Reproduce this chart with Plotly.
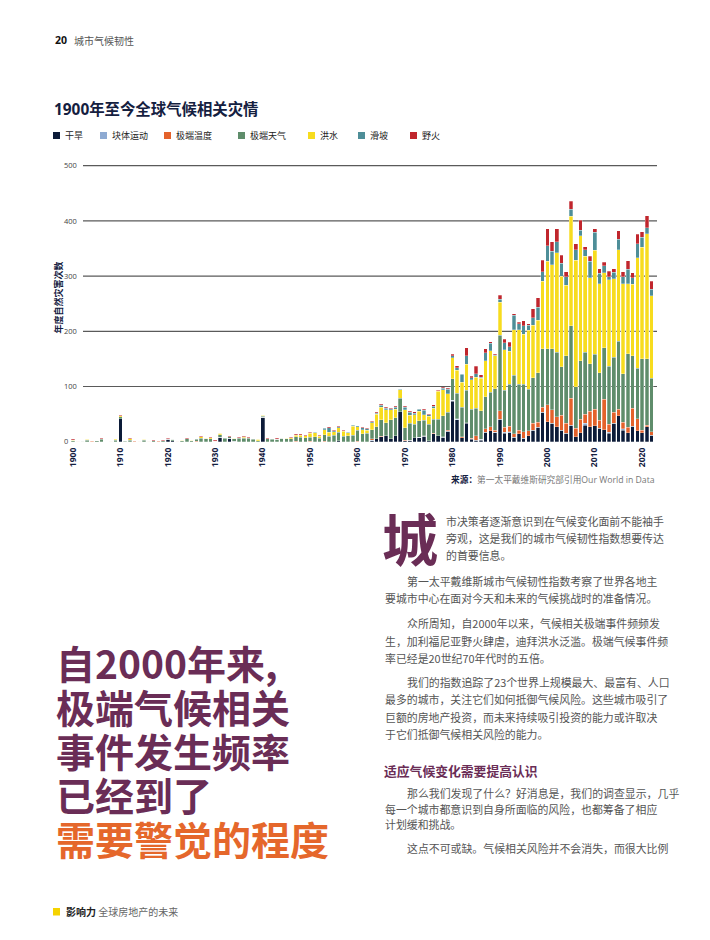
import plotly.graph_objects as go

# ---------------- data ----------------
years = list(range(1900, 2023))

drought = [
    0, 0, 0, 0, 0, 0, 0, 0, 0, 0,
    42, 0, 0, 0, 0, 0, 0, 0, 0, 0,
    4, 2, 0, 0, 0, 0, 0, 0, 0, 0,
    0, 8, 0, 6, 1, 0, 0, 0, 0, 0,
    44, 0, 0, 0, 0, 0, 0, 0, 0, 0,
    0, 0, 0, 0, 0, 0, 2, 0, 0, 0,
    0, 0, 0, 2, 5, 9, 11, 5, 11, 54,
    2, 3, 7, 7, 10, 2, 14, 11, 8, 19,
    73, 40, 7, 33, 4, 3, 3, 17, 20, 16,
    41, 15, 16, 8, 14, 6, 11, 21, 26, 53,
    36, 33, 27, 21, 15, 30, 9, 16, 30, 27,
    29, 24, 22, 15, 33, 47, 21, 16, 28, 20,
    16, 27, 12,
]
mass_movement = [
    0, 0, 0, 0, 0, 0, 0, 0, 0, 0,
    0, 0, 0, 0, 0, 0, 0, 0, 0, 0,
    0, 0, 0, 0, 0, 0, 0, 0, 0, 0,
    0, 0, 0, 0, 0, 0, 0, 0, 0, 0,
    0, 0, 0, 0, 0, 0, 0, 0, 0, 0,
    0, 0, 0, 0, 0, 0, 0, 0, 0, 0,
    0, 0, 0, 1, 0, 0, 0, 0, 0, 0,
    0, 0, 0, 1, 0, 0, 0, 0, 0, 0,
    2, 1, 0, 1, 1, 0, 1, 0, 0, 1,
    0, 2, 2, 0, 0, 0, 0, 0, 0, 0,
    0, 0, 0, 0, 0, 0, 0, 0, 3, 0,
    0, 0, 0, 2, 0, 0, 2, 0, 0, 0,
    0, 0, 0,
]
extreme_temp = [
    0, 1, 0, 0, 1, 0, 0, 0, 1, 0,
    0, 0, 0, 1, 1, 0, 1, 0, 1, 0,
    0, 0, 1, 0, 0, 0, 1, 0, 0, 0,
    1, 0, 0, 0, 0, 0, 0, 0, 0, 0,
    0, 0, 0, 0, 0, 0, 0, 1, 0, 0,
    1, 0, 0, 1, 0, 0, 0, 0, 0, 0,
    1, 0, 0, 2, 0, 1, 0, 0, 0, 0,
    1, 0, 0, 0, 1, 0, 1, 0, 1, 2,
    0, 1, 2, 0, 1, 8, 0, 6, 7, 4,
    15, 9, 10, 6, 7, 12, 9, 12, 9, 9,
    31, 25, 18, 27, 18, 49, 15, 25, 17, 28,
    30, 15, 55, 15, 20, 12, 12, 10, 33, 22,
    5, 3, 6,
]
extreme_weather = [
    2, 0, 1, 3, 1, 2, 4, 0, 0, 3,
    3, 1, 3, 1, 0, 3, 0, 2, 1, 2,
    1, 2, 0, 2, 5, 2, 3, 6, 5, 5,
    0, 5, 6, 3, 4, 6, 6, 6, 4, 2,
    2, 5, 4, 4, 6, 5, 5, 8, 8, 7,
    7, 9, 6, 12, 10, 12, 15, 10, 11, 12,
    20, 14, 15, 17, 22, 30, 23, 35, 32, 25,
    22, 30, 25, 30, 28, 30, 26, 30, 38, 32,
    39, 46, 53, 59, 53, 50, 52, 58, 63, 75,
    137, 67, 76, 106, 83, 86, 75, 83, 90, 106,
    101, 110, 117, 88, 123, 131, 76, 106, 112, 86,
    99, 86, 93, 105, 100, 123, 88, 133, 95, 91,
    129, 120, 97,
]
flood = [
    1, 0, 0, 1, 0, 0, 1, 0, 0, 1,
    2, 1, 2, 0, 0, 1, 0, 0, 0, 0,
    0, 0, 0, 1, 0, 1, 1, 3, 1, 2,
    0, 2, 1, 0, 1, 1, 2, 1, 1, 2,
    2, 0, 1, 0, 0, 1, 2, 3, 4, 4,
    7, 7, 4, 9, 7, 6, 8, 9, 5, 16,
    6, 8, 6, 12, 23, 22, 24, 18, 16, 15,
    33, 15, 17, 17, 10, 14, 20, 50, 47, 34,
    38, 41, 46, 47, 53, 56, 59, 66, 75, 60,
    60, 74, 60, 83, 99, 91, 107, 95, 95, 123,
    159, 153, 180, 164, 127, 198, 229, 226, 174, 156,
    189, 161, 136, 156, 142, 166, 163, 127, 129, 200,
    202, 227, 149,
]
landslide = [
    0, 0, 0, 0, 0, 0, 0, 0, 0, 1,
    0, 0, 0, 0, 0, 0, 0, 0, 0, 0,
    0, 0, 0, 0, 0, 0, 0, 0, 0, 0,
    0, 0, 0, 0, 0, 0, 1, 0, 0, 0,
    0, 0, 0, 0, 0, 0, 0, 1, 1, 0,
    1, 1, 1, 2, 8, 2, 2, 1, 1, 2,
    2, 3, 2, 2, 2, 4, 3, 2, 3, 1,
    4, 5, 3, 4, 8, 3, 3, 1, 3, 8,
    4, 5, 14, 16, 4, 6, 2, 14, 13, 1,
    5, 12, 8, 26, 11, 15, 9, 14, 24, 17,
    28, 24, 20, 23, 16, 13, 19, 10, 12, 30,
    32, 19, 13, 6, 12, 19, 13, 26, 12, 26,
    18, 11, 12,
]
wildfire = [
    1, 0, 0, 1, 0, 0, 1, 0, 0, 0,
    1, 0, 1, 0, 0, 0, 0, 1, 0, 1,
    1, 0, 0, 0, 1, 0, 0, 1, 1, 1,
    2, 1, 0, 1, 0, 1, 1, 1, 0, 1,
    1, 1, 0, 2, 1, 1, 1, 1, 1, 1,
    1, 1, 1, 1, 2, 1, 1, 1, 1, 1,
    0, 1, 1, 1, 1, 2, 1, 1, 2, 1,
    2, 2, 2, 1, 2, 1, 3, 1, 2, 2,
    2, 4, 1, 14, 3, 14, 4, 7, 3, 1,
    7, 7, 8, 3, 2, 9, 3, 16, 17, 21,
    31, 17, 24, 15, 9, 15, 11, 18, 5, 9,
    7, 8, 6, 10, 6, 15, 9, 16, 9, 17,
    10, 21, 15,
]

series_names = ["干旱", "块体运动", "极端温度", "极端天气", "洪水", "滑坡", "野火"]
series_values = [drought, mass_movement, extreme_temp, extreme_weather, flood, landslide, wildfire]
series_colors = ["#0c1b38", "#8eaad2", "#e4622b", "#5f8d6b", "#f7dc1e", "#4e8e98", "#c0262d"]

y_ticks = [0, 100, 200, 300, 400, 500]
x_ticks = list(range(1900, 2021, 10))

# ---------------- page geometry (page pixels) ----------------
OFF = 8                      # default page margin of the html body
W, H = 710 - OFF, 940 - OFF  # figure size so that the page is exactly filled
def PX(x):
    return (x - OFF) / W
def PY(y):
    return 1 - (y - OFF) / H

PURPLE = "#6a2d56"
ORANGE = "#e5672b"
NAVY = "#14203f"
GRAY = "#555555"
FONT = "Open Sans, Noto Sans CJK SC, sans-serif"
CJK = "Noto Sans CJK SC, sans-serif"

# plot area: value 0 at 441.7px, 0.552 px per unit; bar 1900 at 73px, 4.743px per year
y_zero_px, y_scale = 441.7, 0.552
y_lo, y_hi = -16, 515
plot_bottom = y_zero_px - y_lo * y_scale
plot_top = y_zero_px - y_hi * y_scale
x_left_px, x_right_px, x_first_px, x_step = 60, 660, 73, 4.743
x_lo = 1900 - (x_first_px - x_left_px) / x_step
x_hi = x_lo + (x_right_px - x_left_px) / x_step

fig = go.Figure()
for name, vals, col in zip(series_names, series_values, series_colors):
    fig.add_trace(go.Bar(
        x=years, y=vals, name=name,
        marker=dict(color=col, line=dict(color="rgba(255,255,255,0.55)", width=0.5)),
        showlegend=False,
    ))

shapes = []
for t in y_ticks[1:]:
    shapes.append(dict(type="line", xref="paper", yref="y",
                       x0=PX(83), x1=PX(657), y0=t, y1=t,
                       line=dict(color="#5a5a5a", width=1.2), layer="below"))

annotations = []
def txt(s, x, y, size, color, xanchor="left", bold=False, family=CJK, angle=0):
    if bold:
        s = "<b>" + s + "</b>"
    annotations.append(dict(text=s, x=PX(x), y=PY(y), xref="paper", yref="paper",
                            xanchor=xanchor, yanchor="middle", showarrow=False,
                            textangle=angle,
                            font=dict(size=size, color=color, family=family)))

# header
txt("20", 53, 40, 10.5, "#111111", bold=True, family=FONT)
txt("城市气候韧性", 72, 40, 10, GRAY)

# chart title
txt("1900年至今全球气候相关灾情", 52, 110, 15.4, NAVY, bold=True, family=FONT)

# legend
legend_sq_x = [53, 100, 164, 238, 308, 358, 410]
for nm, col, sx in zip(series_names, series_colors, legend_sq_x):
    shapes.append(dict(type="rect", xref="paper", yref="paper",
                       x0=PX(sx), x1=PX(sx + 7), y0=PY(139), y1=PY(132),
                       fillcolor=col, line=dict(width=0)))
    txt(nm, sx + 10, 135.5, 9, "#222222")

# y axis title
txt("年度自然灾害次数", 58.5, 298, 9, NAVY, xanchor="center", bold=True, angle=-90)

# source
txt("<b>来源：</b><span style='color:#777777'>第一太平戴维斯研究部引用Our World in Data</span>",
    657, 480, 8.7, NAVY, xanchor="right", family=FONT)

# drop cap
txt("城", 380, 536, 56, PURPLE, bold=True)

body = [
    ("市决策者逐渐意识到在气候变化面前不能袖手", 444, 520.7),
    ("旁观，这是我们的城市气候韧性指数想要传达", 444, 538.0),
    ("的首要信息。", 444, 555.3),
    ("第一太平戴维斯城市气候韧性指数考察了世界各地主", 405, 580.5),
    ("要城市中心在面对今天和未来的气候挑战时的准备情况。", 383, 597.8),
    ("众所周知，自2000年以来，气候相关极端事件频频发", 405, 623.3),
    ("生，加利福尼亚野火肆虐，迪拜洪水泛滥。极端气候事件频", 383, 640.6),
    ("率已经是20世纪70年代时的五倍。", 383, 657.9),
    ("我们的指数追踪了23个世界上规模最大、最富有、人口", 405, 682.0),
    ("最多的城市，关注它们如何抵御气候风险。这些城市吸引了", 383, 699.3),
    ("巨额的房地产投资，而未来持续吸引投资的能力或许取决", 383, 716.6),
    ("于它们抵御气候相关风险的能力。", 383, 733.9),
    ("那么我们发现了什么？好消息是，我们的调查显示，几乎", 405, 793.0),
    ("每一个城市都意识到自身所面临的风险，也都筹备了相应", 383, 808.5),
    ("计划缓和挑战。", 383, 823.5),
    ("这点不可或缺。气候相关风险并不会消失，而很大比例", 405, 848.3),
]
for s, x, y in body:
    txt(s, x, y, 10.9, GRAY)

txt("适应气候变化需要提高认识", 382, 770.7, 12.8, PURPLE, bold=True)

# headline
headline = [("自2000年来,", PURPLE), ("极端气候相关", PURPLE), ("事件发生频率", PURPLE),
            ("已经到了", PURPLE), ("需要警觉的程度", ORANGE)]
for i, (s, c) in enumerate(headline):
    txt(s, 54, 661.7 + i * 44.1, 39, c, bold=True)

# footer
shapes.append(dict(type="rect", xref="paper", yref="paper",
                   x0=PX(53), x1=PX(60), y0=PY(915.5), y1=PY(908),
                   fillcolor="#f5d300", line=dict(width=0)))
txt("<b>影响力</b> <span style='color:#666666'>全球房地产的未来</span>", 64, 911.5, 10, "#222222")

fig.update_layout(
    width=W, height=H,
    margin=dict(l=0, r=0, t=0, b=0),
    paper_bgcolor="white", plot_bgcolor="white",
    barmode="stack", bargap=0.24,
    shapes=shapes, annotations=annotations,
    xaxis=dict(domain=[PX(x_left_px), PX(x_right_px)], range=[x_lo, x_hi],
               anchor="free", position=PY(445),
               tickvals=x_ticks, ticktext=["<b>%d</b>" % v for v in x_ticks],
               tickangle=-90, ticks="", showgrid=False, zeroline=False, showline=False,
               ticklabeloverflow="allow",
               tickfont=dict(size=8.5, color=NAVY, family=FONT)),
    yaxis=dict(domain=[PY(plot_bottom), PY(plot_top)], range=[y_lo, y_hi],
               anchor="free", position=PX(x_left_px),
               tickvals=y_ticks, ticks="", ticklabelposition="inside",
               ticklabeloverflow="allow",
               showgrid=False, zeroline=False, showline=False,
               tickfont=dict(size=7.5, color="#444444", family=FONT)),
    font=dict(family=FONT),
)

fig.write_html("out.html")
